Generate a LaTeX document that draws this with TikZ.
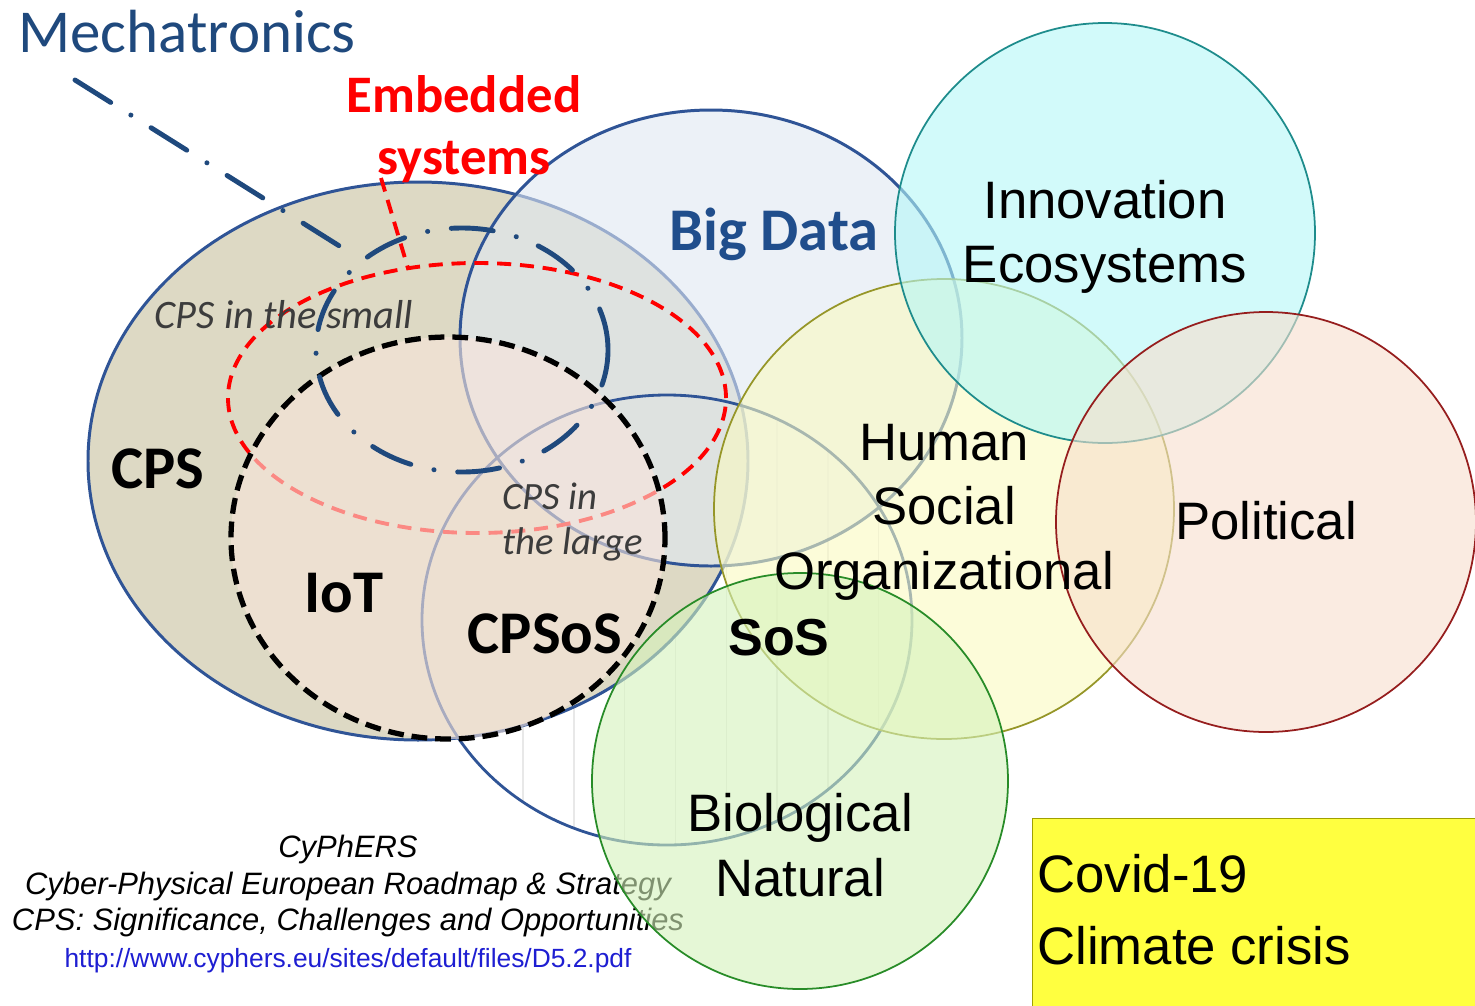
\documentclass[tikz,border=0pt]{standalone}
\usepackage{fontspec}
\setmainfont{Liberation Sans}
\newfontfamily\calibri{Carlito}
\usetikzlibrary{shapes.geometric}

\definecolor{cpsblue}{RGB}{47,84,150}
\definecolor{navy}{RGB}{31,73,125}
\definecolor{bigblue}{RGB}{32,78,140}
\definecolor{cpstan}{RGB}{221,217,196}
\definecolor{bigfill}{RGB}{224,232,243}
\definecolor{iotfill}{RGB}{249,229,219}
\definecolor{innofill}{RGB}{180,247,247}
\definecolor{innoline}{RGB}{30,140,140}
\definecolor{humfill}{RGB}{250,250,193}
\definecolor{humline}{RGB}{150,150,40}
\definecolor{polfill}{RGB}{247,223,205}
\definecolor{polline}{RGB}{150,30,30}
\definecolor{biofill}{RGB}{213,243,187}
\definecolor{bioline}{RGB}{40,140,40}
\definecolor{covidfill}{RGB}{255,255,64}
\definecolor{covidline}{RGB}{160,160,0}
\definecolor{urlblue}{RGB}{30,30,210}
\definecolor{notegray}{RGB}{60,60,60}

\def\px{0.02cm}

\begin{document}
\begin{tikzpicture}[x=\px, y=-\px]
    \tikzstyle{area}=[ellipse, inner sep=0pt, outer sep=0pt]
    \tikzstyle{cps area}=[area, fill=cpstan, draw=cpsblue, line width=1.7pt]
    \tikzstyle{data area}=[area, fill=bigfill, fill opacity=0.6, draw=cpsblue, line width=1.7pt]
    \tikzstyle{sos area}=[area, draw=cpsblue, line width=1.6pt]
    \tikzstyle{reddash}=[draw=red, line width=2.2pt, dash pattern=on 8pt off 5pt]
    \tikzstyle{embedded area}=[area, reddash]
    \tikzstyle{iot area}=[area, fill=iotfill, fill opacity=0.6, draw=black, line width=3pt, dash pattern=on 9pt off 4.5pt]
    \tikzstyle{dashdot}=[draw=navy, line width=2.8pt, line cap=round, dash pattern=on 24pt off 13.5pt on 0.1pt off 13.5pt]
    \tikzstyle{small area}=[area, dashdot]
    \tikzstyle{ring}=[circle, inner sep=0pt, outer sep=0pt, line width=1pt, fill opacity=0.6]
    \tikzstyle{cpslabel}=[font=\calibri\bfseries\fontsize{34.5}{41}\selectfont, inner sep=0pt, anchor=base]
    \tikzstyle{note}=[font=\calibri\itshape\fontsize{23}{26}\selectfont, text=notegray, inner sep=0pt]
    \tikzstyle{arialbig}=[font=\fontsize{30}{36.7}\selectfont, align=center, inner sep=0pt]
    \tikzstyle{covidbox}=[fill=covidfill, draw=covidline, line width=0.8pt, inner sep=0pt]

    \path[use as bounding box, fill=white] (0,0) rectangle (1475,1005);

    % faint grid behind the SoS circle
    \begin{scope}
        \clip (667,620) ellipse [x radius=245, y radius=225];
        \foreach \k in {0,...,7}
            \draw[gray!18, line width=0.8pt] (523+50.8*\k,380) -- (523+50.8*\k,850);
    \end{scope}

    % Draw the CPS family of areas
    \node[cps area, minimum width=660*\px, minimum height=558*\px] (cps) at (418,461) {};
    \node[data area, minimum width=502*\px, minimum height=456*\px] (bigdata) at (711,338) {};
    \node[sos area, minimum width=490*\px, minimum height=450*\px] (sos) at (667,620) {};
    \node[embedded area, minimum width=498*\px, minimum height=270*\px] (embedded) at (477,398) {};
    \node[iot area, minimum width=434*\px, minimum height=402*\px] (iot) at (448,538) {};
    \node[small area, minimum width=292*\px, minimum height=244*\px] (small) at (462,350) {};

    % Leaders from the titles
    \coordinate (mlead) at (75,80);
    \coordinate (elead) at (381,178);
    \draw[dashdot, shorten >=0.38cm] (mlead) -- (small.138);
    \draw[reddash] (elead) -- (embedded.118);

    % Draw the outer circles
    \node[ring, fill=humfill, draw=humline, minimum size=460*\px] (human) at (944,509) {};
    \node[ring, fill=innofill, draw=innoline, minimum size=420*\px] (innov) at (1105,233) {};
    \node[ring, fill=polfill, draw=polline, minimum size=420*\px] (politic) at (1266,522) {};

    \node[font=\itshape\fontsize{17.6}{21}\selectfont, align=center, inner sep=0pt] (source) at (348,904)
        {CyPhERS\\Cyber-Physical European Roadmap \& Strategy\\CPS: Significance, Challenges and Opportunities\\{\upshape\fontsize{15}{21}\selectfont\color{urlblue}http://www.cyphers.eu/sites/default/files/D5.2.pdf}};

    \node[ring, fill=biofill, draw=bioline, minimum size=416*\px] (bio) at (800,781) {};

    % Annotate the areas
    \node[anchor=base west, font=\calibri\fontsize{34.7}{40}\selectfont, text=navy, inner sep=0pt] (mecha) at (18,52) {Mechatronics};
    \node[font=\calibri\bfseries\fontsize{30}{35.3}\selectfont, text=red, align=center, inner sep=0pt] (embedded-txt) at (464,129) {Embedded\\systems};
    \node[cpslabel, text=bigblue] (bigdata-txt) at (774,250) {Big Data};
    \node[cpslabel] (cps-txt) at (158,488) {CPS};
    \node[cpslabel] (iot-txt) at (344,612) {IoT};
    \node[cpslabel] (cpsos-txt) at (545,653) {CPSoS};
    \node[note, anchor=base] (small-txt) at (284,328) {CPS in the small};
    \node[note, font=\calibri\itshape\fontsize{22}{26}\selectfont, align=left, anchor=west] (large-txt) at (502,522) {CPS in\\the large};
    \node[font=\bfseries\fontsize{29.6}{35}\selectfont, inner sep=0pt, anchor=base] (sos-txt) at (779,655) {SoS};

    \node[arialbig] (innov-txt) at (1105,237) {Innovation\\Ecosystems};
    \node[arialbig] (human-txt) at (944,512) {Human\\Social\\Organizational};
    \node[arialbig] (politic-txt) at (1266,521) {Political};
    \node[arialbig] (bio-txt) at (800,845) {Biological\\Natural};

    % The side box
    \node[covidbox, anchor=north west, minimum width=450*\px, minimum height=200*\px] (covid) at (1032,818) {};
    \node[font=\fontsize{30}{41}\selectfont, align=left, inner sep=0pt, anchor=west] (covid-txt) at (1037,910) {Covid-19\\Climate crisis};
\end{tikzpicture}
\end{document}
